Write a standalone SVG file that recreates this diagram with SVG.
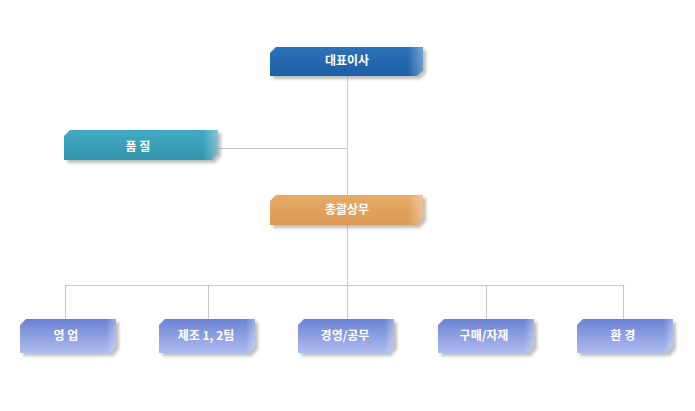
<svg xmlns="http://www.w3.org/2000/svg" width="695" height="411" viewBox="0 0 695 411">
<defs>
<linearGradient id="gBlue" x1="0" y1="0" x2="0" y2="1"><stop offset="0" stop-color="#2b72ba"/><stop offset="1" stop-color="#1c5fa6"/></linearGradient>
<linearGradient id="gTeal" x1="0" y1="0" x2="0" y2="1"><stop offset="0" stop-color="#41aac2"/><stop offset="1" stop-color="#3394ac"/></linearGradient>
<linearGradient id="gOrange" x1="0" y1="0" x2="0" y2="1"><stop offset="0" stop-color="#e8aa68"/><stop offset="1" stop-color="#da9a54"/></linearGradient>
<linearGradient id="gPeri" x1="0" y1="0" x2="0" y2="1"><stop offset="0" stop-color="#6a82d4"/><stop offset="1" stop-color="#aebcee"/></linearGradient>
<linearGradient id="gEdge" x1="0" y1="0" x2="1" y2="0"><stop offset="0.9" stop-color="#ffffff" stop-opacity="0"/><stop offset="1" stop-color="#ffffff" stop-opacity="0.35"/></linearGradient>
<filter id="sh" x="-10%" y="-20%" width="130%" height="160%"><feGaussianBlur stdDeviation="1.6"/></filter>
</defs>
<style>
.conn{stroke:#c8c8c8;stroke-width:1;fill:none}
.shadow{fill:#8a8a8a;opacity:0.55;filter:url(#sh)}
.lbl{font-family:"Noto Sans CJK KR","Noto Sans",sans-serif;font-size:12px;font-weight:bold;fill:#ffffff;text-anchor:middle}
</style>
<rect width="695" height="411" fill="#ffffff"/>
<g id="connectors">
<path class="conn" d="M347.5,75V285"/>
<path class="conn" d="M218,148.5H347.5"/>
<path class="conn" d="M65.5,285.5H624.5"/>
<path class="conn" d="M65.5,285V319M208.5,285V319M347.5,285V319M486.5,285V319M623.5,285V319"/>
</g>
<g id="n-ceo">
<path class="shadow" d="M279,50H426V73L420,79H273V56Z"/>
<path fill="url(#gBlue)" d="M276,47H423V70L417,76H270V53Z"/>
<path fill="url(#gEdge)" d="M276,47H423V70L417,76H270V53Z"/>
<text class="lbl" x="347" y="64.5">대표이사</text>
</g>
<g id="n-quality">
<path class="shadow" d="M73,133H221V156L215,163H67V139Z"/>
<path fill="url(#gTeal)" d="M70,130H218V153L212,160H64V136Z"/>
<path fill="url(#gEdge)" d="M70,130H218V153L212,160H64V136Z"/>
<text class="lbl" x="138" y="151">품 질</text>
</g>
<g id="n-gm">
<path class="shadow" d="M279,198H426V221L420,228H273V204Z"/>
<path fill="url(#gOrange)" d="M276,195H423V218L417,225H270V201Z"/>
<path fill="url(#gEdge)" d="M276,195H423V218L417,225H270V201Z"/>
<text class="lbl" x="347" y="214">총괄상무</text>
</g>
<g id="n-sales">
<path class="shadow" d="M29,322H119V349L113,356H23V328Z"/>
<path fill="url(#gPeri)" d="M26,319H116V346L110,353H20V325Z"/>
<path fill="url(#gEdge)" d="M26,319H116V346L110,353H20V325Z"/>
<text class="lbl" x="66" y="340">영 업</text>
</g>
<g id="n-mfg">
<path class="shadow" d="M168,322H258V349L252,356H162V328Z"/>
<path fill="url(#gPeri)" d="M165,319H255V346L249,353H159V325Z"/>
<path fill="url(#gEdge)" d="M165,319H255V346L249,353H159V325Z"/>
<text class="lbl" x="206" y="340">제조 1, 2팀</text>
</g>
<g id="n-mgmt">
<path class="shadow" d="M307,322H397V349L391,356H301V328Z"/>
<path fill="url(#gPeri)" d="M304,319H394V346L388,353H298V325Z"/>
<path fill="url(#gEdge)" d="M304,319H394V346L388,353H298V325Z"/>
<text class="lbl" x="345" y="340">경영/공무</text>
</g>
<g id="n-purchase">
<path class="shadow" d="M447,322H537V349L531,356H441V328Z"/>
<path fill="url(#gPeri)" d="M444,319H534V346L528,353H438V325Z"/>
<path fill="url(#gEdge)" d="M444,319H534V346L528,353H438V325Z"/>
<text class="lbl" x="484" y="340">구매/자재</text>
</g>
<g id="n-env">
<path class="shadow" d="M586,322H676V349L670,356H580V328Z"/>
<path fill="url(#gPeri)" d="M583,319H673V346L667,353H577V325Z"/>
<path fill="url(#gEdge)" d="M583,319H673V346L667,353H577V325Z"/>
<text class="lbl" x="623" y="340">환 경</text>
</g>
</svg>
